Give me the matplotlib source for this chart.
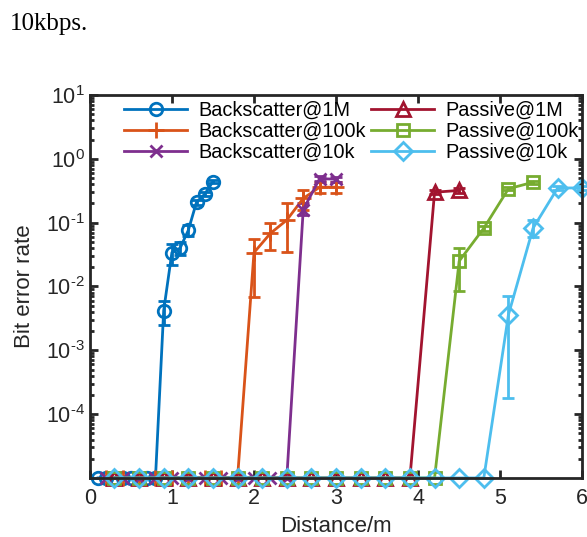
import numpy as np
import matplotlib
matplotlib.use('Agg')
import matplotlib.pyplot as plt

plt.rcParams['font.family'] = ['Liberation Sans', 'DejaVu Sans']
plt.rcParams['mathtext.fontset'] = 'custom'
plt.rcParams['mathtext.rm'] = 'Liberation Sans'

ZERO = 1e-5  # zero BER drawn on the bottom axis

# Backscatter @ 1M
bs1m_x = [0.1, 0.2, 0.3, 0.4, 0.5, 0.6, 0.7, 0.8, 0.9, 1.0, 1.1, 1.2, 1.3, 1.4, 1.5]
bs1m_y = [ZERO] * 8 + [4.2e-3, 0.034, 0.040, 0.076, 0.21, 0.28, 0.44]
bs1m_lo = [ZERO] * 8 + [2.5e-3, 0.022, 0.031, 0.062, 0.19, 0.26, 0.42]
bs1m_hi = [ZERO] * 8 + [6.0e-3, 0.047, 0.050, 0.092, 0.23, 0.30, 0.46]

# Backscatter @ 100k
bs100k_x = [0.2, 0.4, 0.6, 0.8, 1.0, 1.2, 1.4, 1.6, 1.8, 2.0, 2.2, 2.4, 2.6, 2.8, 3.0]
bs100k_y = [ZERO] * 9 + [0.034, 0.068, 0.11, 0.24, 0.36, 0.36]
bs100k_lo = [ZERO] * 9 + [0.0068, 0.037, 0.035, 0.16, 0.29, 0.29]
bs100k_hi = [ZERO] * 9 + [0.056, 0.10, 0.20, 0.33, 0.44, 0.44]

# Backscatter @ 10k
bs10k_x = [0.2, 0.4, 0.6, 0.8, 1.0, 1.2, 1.4, 1.6, 1.8, 2.0, 2.2, 2.4, 2.6, 2.8, 3.0]
bs10k_y = [ZERO] * 12 + [0.16, 0.49, 0.48]
bs10k_lo = [ZERO] * 12 + [0.13, 0.45, 0.44]
bs10k_hi = [ZERO] * 12 + [0.20, 0.53, 0.52]

# Passive @ 1M
p1m_x = [0.3, 0.6, 0.9, 1.2, 1.5, 1.8, 2.1, 2.4, 2.7, 3.0, 3.3, 3.6, 3.9, 4.2, 4.5]
p1m_y = [ZERO] * 13 + [0.30, 0.32]
p1m_lo = [ZERO] * 13 + [0.28, 0.29]
p1m_hi = [ZERO] * 13 + [0.33, 0.35]

# Passive @ 100k
p100k_x = [0.3, 0.6, 0.9, 1.2, 1.5, 1.8, 2.1, 2.4, 2.7, 3.0, 3.3, 3.6, 3.9, 4.2, 4.5, 4.8, 5.1, 5.4]
p100k_y = [ZERO] * 14 + [0.025, 0.082, 0.34, 0.43]
p100k_lo = [ZERO] * 14 + [0.0085, 0.075, 0.32, 0.41]
p100k_hi = [ZERO] * 14 + [0.040, 0.090, 0.36, 0.45]

# Passive @ 10k
p10k_x = [0.3, 0.6, 0.9, 1.2, 1.5, 1.8, 2.1, 2.4, 2.7, 3.0, 3.3, 3.6, 3.9, 4.2, 4.5, 4.8, 5.1, 5.4, 5.7, 6.0]
p10k_y = [ZERO] * 16 + [3.6e-3, 0.082, 0.35, 0.35]
p10k_lo = [ZERO] * 16 + [1.8e-4, 0.060, 0.32, 0.32]
p10k_hi = [ZERO] * 16 + [7.0e-3, 0.110, 0.38, 0.38]

ytick_exp = ['-4', '-3', '-2', '-1', '0', '1']

series = [
    ('Backscatter@1M', bs1m_x, bs1m_y, bs1m_lo, bs1m_hi, '#0072BD', 'o', 9),
    ('Backscatter@100k', bs100k_x, bs100k_y, bs100k_lo, bs100k_hi, '#D95319', '+', 11),
    ('Backscatter@10k', bs10k_x, bs10k_y, bs10k_lo, bs10k_hi, '#7E2F8E', 'x', 8),
    ('Passive@1M', p1m_x, p1m_y, p1m_lo, p1m_hi, '#A2142F', '^', 10),
    ('Passive@100k', p100k_x, p100k_y, p100k_lo, p100k_hi, '#77AC30', 's', 8),
    ('Passive@10k', p10k_x, p10k_y, p10k_lo, p10k_hi, '#4DBEEE', 'D', 9),
]

fig = plt.figure(figsize=(5.87, 5.37), dpi=100)
ax = fig.add_axes([0.153, 0.110, 0.839, 0.713])

handles = []
for name, x, y, lo, hi, c, m, ms in series:
    y = np.array(y)
    err = [y - np.array(lo), np.array(hi) - y]
    eb = ax.errorbar(x, y, yerr=err, color=c, marker=m, markersize=ms,
                     markerfacecolor='none', markeredgewidth=2, linewidth=2,
                     capsize=4, capthick=2, elinewidth=2)
    eb.lines[0].set_label(name)
    handles.append(eb.lines[0])
    for art in eb.lines[0:1] + tuple(eb.lines[1]) + tuple(eb.lines[2]):
        art.set_clip_on(False)

ax.set_yscale('log')
ax.set_ylim(1e-5, 1e1)
ax.set_xlim(0, 6)
ax.set_xticks([0, 1, 2, 3, 4, 5, 6])
ax.set_yticks([10.0 ** int(e) for e in ytick_exp])
ax.set_yticklabels([r'$\mathregular{10^{\text{%s}}}$' % e for e in ytick_exp])
ax.tick_params(which='both', direction='in', top=True, right=True,
               labelsize=15.5, width=2, colors='#262626')
ax.tick_params(axis='x', pad=7)
ax.tick_params(which='major', length=6)
ax.tick_params(which='minor', length=3)
for s in ax.spines.values():
    s.set_linewidth(2)
    s.set_color('#262626')

ax.set_xlabel('Distance/m', fontsize=16, color='#262626', labelpad=5)
ax.set_ylabel('Bit error rate', fontsize=16, color='#262626', labelpad=8)

ax.legend(handles=handles, ncol=2, loc='upper left', bbox_to_anchor=(0.045, 1.015),
          frameon=False, fontsize=14.3, handlelength=3.2, columnspacing=0.25,
          handletextpad=0.55, labelspacing=0.1, borderaxespad=0.2)

fig.text(0.017, 0.945, '10kbps.', fontsize=18, family='Liberation Serif')

fig.savefig('out.png', dpi=100)
